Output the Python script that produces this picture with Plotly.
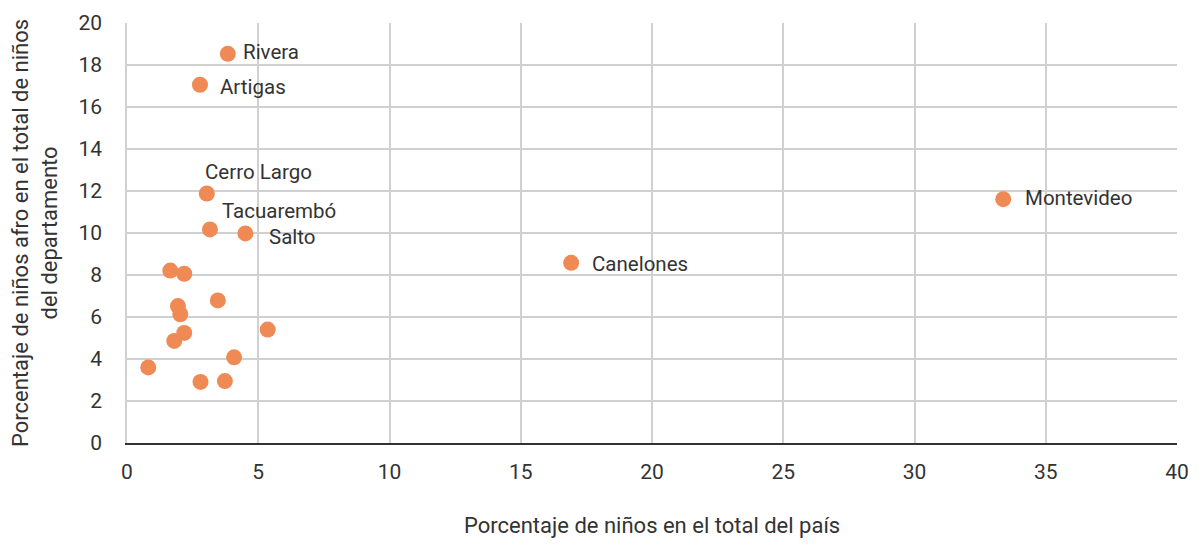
import plotly.graph_objects as go

# Data
departamentos = ["Rivera", "Artigas", "Cerro Largo", "Tacuarembó", "Salto", "Canelones", "Montevideo",
                 "", "", "", "", "", "", "", "", "", "", "", ""]
pct_pais = [3.84, 2.78, 3.04, 3.16, 4.51, 16.92, 33.38,
            1.65, 2.18, 1.94, 2.03, 3.46, 2.18, 1.80, 5.36, 4.08, 0.81, 2.80, 3.73]
pct_afro = [18.53, 17.06, 11.88, 10.17, 9.98, 8.58, 11.61,
            8.21, 8.06, 6.52, 6.13, 6.79, 5.24, 4.86, 5.40, 4.08, 3.60, 2.91, 2.95]

x_title = "Porcentaje de niños en el total del país"
y_title = "Porcentaje de niños afro en el total de niños<br>del departamento"

# label offsets (pixels) for labelled points
label_offsets = {
    "Rivera": (13, 2),
    "Artigas": (18, -2),
    "Cerro Largo": (-4, 22),
    "Tacuarembó": (10, 18),
    "Salto": (22, -4),
    "Canelones": (19, -1),
    "Montevideo": (20, 1),
}

FONT = "Roboto, Arial, sans-serif"
TXT = "#333333"
ORANGE = "#EF8A55"

fig = go.Figure()
fig.add_trace(go.Scatter(
    x=pct_pais, y=pct_afro, mode="markers",
    marker=dict(size=16, color=ORANGE, line=dict(width=0)),
    hovertext=departamentos, showlegend=False,
))

for name, xv, yv in zip(departamentos, pct_pais, pct_afro):
    if not name:
        continue
    dx, dy = label_offsets[name]
    fig.add_annotation(
        x=xv, y=yv, xref="x", yref="y", text=name, showarrow=False,
        xanchor="left", yanchor="middle", xshift=dx, yshift=dy,
        font=dict(family=FONT, size=20.5, color=TXT),
    )

# axis titles
fig.add_annotation(
    x=-92 / 1050, y=0.5, xref="paper", yref="paper", text=y_title, showarrow=False,
    textangle=-90, xanchor="center", yanchor="middle",
    font=dict(family=FONT, size=22, color=TXT),
)
fig.add_annotation(
    x=0.5, y=-82 / 420, xref="paper", yref="paper", text=x_title, showarrow=False,
    xanchor="center", yanchor="middle",
    font=dict(family=FONT, size=22, color=TXT),
)

fig.update_layout(
    width=1204, height=545,
    margin=dict(l=119, r=35, t=15, b=110),
    paper_bgcolor="white", plot_bgcolor="white",
    font=dict(family=FONT, size=20, color=TXT),
    xaxis=dict(
        range=[0, 40], dtick=5, tick0=0, automargin=False,
        showgrid=True, gridcolor="#D0D0D0", gridwidth=1.5,
        zeroline=False, showline=True, linecolor="#333333", linewidth=1.5,
        ticks="outside", ticklen=9, tickcolor="rgba(0,0,0,0)",
        tickfont=dict(family=FONT, size=21, color=TXT),
    ),
    yaxis=dict(
        range=[0, 20], dtick=2, tick0=0, automargin=False,
        showgrid=True, gridcolor="#D0D0D0", gridwidth=1.5,
        zeroline=False, showline=True, linecolor="#D0D0D0", linewidth=1.5,
        ticks="outside", ticklen=19, tickcolor="rgba(0,0,0,0)",
        tickfont=dict(family=FONT, size=21, color=TXT),
    ),
)

fig.write_html("out.html")
